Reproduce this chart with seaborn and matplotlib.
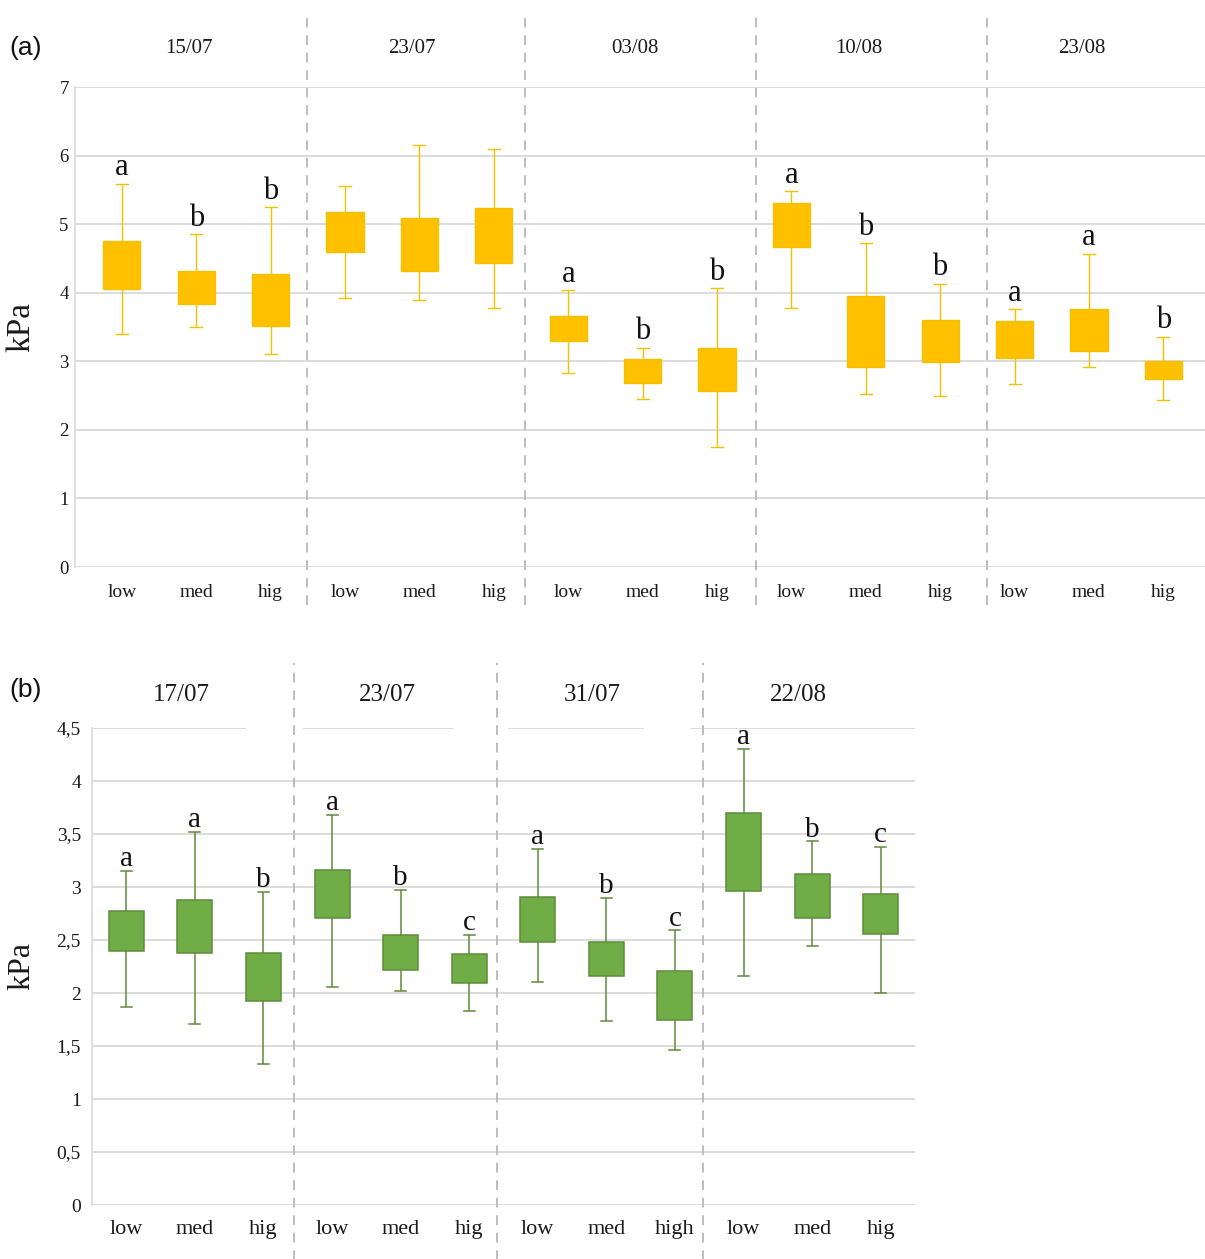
import numpy as np
import pandas as pd
import matplotlib
matplotlib.use("Agg")
import matplotlib.pyplot as plt
import seaborn as sns

# ---- panel (a) data: one entry per box (low / med / hig for each date)
dates_a = ["15/07", "23/07", "03/08", "10/08", "23/08"]
ticks_a = ["low", "med", "hig"] * 5
a_min = [3.40, 3.50, 3.10, 3.93, 3.89, 3.78, 2.83, 2.45, 1.75, 3.78, 2.53, 2.50, 2.67, 2.91, 2.43]
a_q1 = [4.06, 3.83, 3.52, 4.60, 4.31, 4.44, 3.30, 2.69, 2.56, 4.67, 2.91, 2.99, 3.05, 3.15, 2.74]
a_q3 = [4.75, 4.31, 4.28, 5.17, 5.09, 5.24, 3.66, 3.04, 3.20, 5.31, 3.95, 3.60, 3.59, 3.76, 3.01]
a_max = [5.59, 4.85, 5.25, 5.55, 6.15, 6.10, 4.04, 3.20, 4.07, 5.48, 4.72, 4.13, 3.76, 4.57, 3.36]
a_letters = ["a", "b", "b", "", "", "", "a", "b", "b", "a", "b", "b", "a", "a", "b"]

# ---- panel (b) data
dates_b = ["17/07", "23/07", "31/07", "22/08"]
ticks_b = ["low", "med", "hig", "low", "med", "hig", "low", "med", "high", "low", "med", "hig"]
b_min = [1.87, 1.71, 1.33, 2.06, 2.02, 1.83, 2.10, 1.74, 1.46, 2.16, 2.44, 2.00]
b_q1 = [2.40, 2.38, 1.92, 2.71, 2.22, 2.09, 2.48, 2.16, 1.75, 2.96, 2.71, 2.56]
b_q3 = [2.77, 2.88, 2.38, 3.16, 2.55, 2.37, 2.91, 2.48, 2.21, 3.70, 3.12, 2.93]
b_max = [3.15, 3.52, 2.95, 3.68, 2.97, 2.55, 3.36, 2.90, 2.59, 4.30, 3.43, 3.38]
b_letters = ["a", "a", "b", "a", "b", "c", "a", "b", "c", "a", "b", "c"]


def long_frame(lo, q1, q3, hi):
    # six points per box: whiskers span min..max, 25th/75th percentiles hit q1/q3 exactly
    rows = []
    for i, (a, b, c, d) in enumerate(zip(lo, q1, q3, hi)):
        for v in (a, b, b, c, c, d):
            rows.append({"box": i, "kPa": v})
    return pd.DataFrame(rows)


plt.rcParams["font.family"] = ["Liberation Serif", "DejaVu Serif"]

W, H = 1205, 1259
fig = plt.figure(figsize=(W / 100, H / 100), dpi=100)

GRID = "#d9d9d9"
SEP = "#bdbdbd"
TXT = "#1a1a1a"


def px_axes(left, top, right, bottom):
    return fig.add_axes([left / W, 1 - bottom / H, (right - left) / W, (bottom - top) / H])


def style_panel(ax, yticks, ylabels, xlim, ytick_pad, xtick_pad, ticklabels,
                xfs, yfs, full_top=True):
    ax.set_xlim(*xlim)
    ax.set_ylim(yticks[0], yticks[-1])
    for s in ("top", "right", "bottom"):
        ax.spines[s].set_visible(False)
    ax.spines["left"].set_color(GRID)
    ax.spines["left"].set_linewidth(1.2)
    grid_vals = yticks if full_top else yticks[:-1]
    for v in grid_vals:
        ax.axhline(v, color=GRID, lw=1.3, zorder=0)
    ax.set_yticks(yticks)
    ax.set_yticklabels(ylabels, fontsize=yfs, color=TXT)
    ax.set_xticks(range(len(ticklabels)))
    ax.set_xticklabels(ticklabels, fontsize=xfs, color=TXT)
    ax.tick_params(axis="y", length=0, pad=ytick_pad)
    ax.tick_params(axis="x", length=0, pad=xtick_pad)
    ax.set_xlabel("")


# ================= panel (a) =================
ax1 = px_axes(75, 87, 1205, 567)
df_a = long_frame(a_min, a_q1, a_q3, a_max)
sns.boxplot(data=df_a, x="box", y="kPa", order=list(range(len(a_min))), ax=ax1,
            color="#FFC000", linecolor="#F2C200", saturation=1, width=0.5,
            whis=(0, 100), showfliers=False, linewidth=1.0,
            medianprops={"visible": False}, capwidths=0.16)
style_panel(ax1, list(range(8)), [str(i) for i in range(8)], (-0.63, 14.56),
            4.5, 12, ticks_a, 14, 13.5)
ax1.set_ylabel("kPa", fontsize=24, color=TXT)
ax1.yaxis.set_label_coords(-0.034, 0.5)

for i, (lab, top) in enumerate(zip(a_letters, a_max)):
    if lab:
        ax1.annotate(lab, (i, top), xytext=(0, 6), textcoords="offset points",
                     ha="center", va="baseline", fontsize=22, color="#111111")

for sx in (2.49, 5.42, 8.53, 11.63):
    ax1.axvline(sx, ymin=-0.08, ymax=1.16, clip_on=False, color=SEP,
                lw=1.4, ls=(0, (5, 4)), zorder=1)
for g, d in enumerate(dates_a):
    ax1.text(3 * g + 0.9, 1.081, d, transform=ax1.get_xaxis_transform(),
             ha="center", va="center", fontsize=15, color=TXT)
fig.text(9 / W, 1 - 48 / H, "(a)", fontsize=19, family=["Liberation Sans", "DejaVu Sans"],
         ha="left", va="center", color="#111111")

# ================= panel (b) =================
ax2 = px_axes(92, 728, 915, 1205)
df_b = long_frame(b_min, b_q1, b_q3, b_max)
sns.boxplot(data=df_b, x="box", y="kPa", order=list(range(len(b_min))), ax=ax2,
            color="#70AD47", linecolor="#5E8C3A", saturation=1, width=0.51,
            whis=(0, 100), showfliers=False, linewidth=1.1,
            medianprops={"visible": False}, capwidths=0.16)
yt_b = [0, 0.5, 1, 1.5, 2, 2.5, 3, 3.5, 4, 4.5]
yl_b = [("%g" % v).replace(".", ",") for v in yt_b]
style_panel(ax2, yt_b, yl_b, (-0.5, 11.5), 8, 10.5, ticks_b, 16, 14, full_top=False)
# top gridline is broken around the date headings
for x0, x1 in ((-0.5, 1.74), (2.57, 4.76), (5.56, 7.55), (8.23, 11.5)):
    ax2.hlines(4.5, x0, x1, color=GRID, lw=1.3, zorder=0)
ax2.set_ylabel("kPa", fontsize=23, color=TXT)
ax2.yaxis.set_label_coords(-0.067, 0.5)

for i, (lab, top) in enumerate(zip(b_letters, b_max)):
    ax2.annotate(lab, (i, top), xytext=(0, 3.5), textcoords="offset points",
                 ha="center", va="baseline", fontsize=21, color="#111111")

for sx in (2.44, 5.40, 8.41):
    ax2.axvline(sx, ymin=-0.115, ymax=1.136, clip_on=False, color=SEP,
                lw=1.4, ls=(0, (5, 4)), zorder=1)
for g, d in enumerate(dates_b):
    ax2.text(3 * g + 0.8, 1.069, d, transform=ax2.get_xaxis_transform(),
             ha="center", va="center", fontsize=18, color=TXT)
fig.text(9 / W, 1 - 690 / H, "(b)", fontsize=19, family=["Liberation Sans", "DejaVu Sans"],
         ha="left", va="center", color="#111111")

fig.savefig("out.png", dpi=100, facecolor="white")
